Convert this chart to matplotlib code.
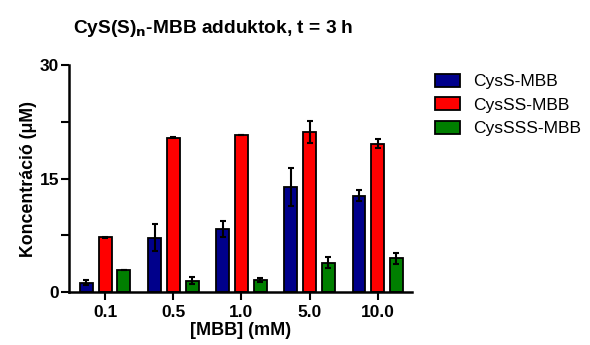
import numpy as np
import matplotlib
matplotlib.use("Agg")
import matplotlib.pyplot as plt
from matplotlib.ticker import MultipleLocator

plt.rcParams['font.family'] = ['Liberation Sans', 'DejaVu Sans']

concentrations = ["0.1", "0.5", "1.0", "5.0", "10.0"]
series_names = ["CysS-MBB", "CysSS-MBB", "CysSSS-MBB"]
cyss = [1.25, 7.2, 8.35, 13.9, 12.75]
cyss_err = [0.35, 1.8, 1.0, 2.5, 0.75]
cysss = [7.25, 20.4, 20.7, 21.1, 19.6]
cysss_err = [0.1, 0.1, 0.0, 1.45, 0.6]
cyssss = [2.95, 1.5, 1.6, 3.9, 4.45]
cyssss_err = [0.0, 0.45, 0.3, 0.75, 0.7]
colors = ["#00008B", "#FF0000", "#007F00"]

fig = plt.figure(figsize=(5.9, 3.45), dpi=100)
ax = fig.add_axes([0.117, 0.153, 0.581, 0.659])

x = np.arange(len(concentrations))
width = 0.19
pitch = 0.275
for i, (vals, errs) in enumerate([(cyss, cyss_err), (cysss, cysss_err), (cyssss, cyssss_err)]):
    ax.bar(x + (i - 1) * pitch, vals, width, color=colors[i], edgecolor="black",
           linewidth=1.3, label=series_names[i], zorder=2)
    ax.errorbar(x + (i - 1) * pitch, vals, yerr=errs, fmt="none", ecolor="black",
                elinewidth=1.5, capsize=2.5, capthick=1.5, zorder=3)

ax.set_xlim(-0.53, 4.5)
ax.set_ylim(0, 30)
ax.set_yticks([0, 15, 30])
ax.yaxis.set_minor_locator(MultipleLocator(7.5))
ax.set_xticks(x)
ax.set_xticklabels(concentrations)
for lab in ax.get_xticklabels() + ax.get_yticklabels():
    lab.set_fontweight("bold")
    lab.set_fontsize(12.5)
ax.tick_params(axis="x", which="major", direction="out", length=6, width=1.5, pad=3)
ax.tick_params(axis="y", which="major", direction="out", length=6, width=1.5, pad=1)
ax.tick_params(axis="y", which="minor", direction="out", length=6, width=1.5)
for s in ["top", "right"]:
    ax.spines[s].set_visible(False)
for s in ["left", "bottom"]:
    ax.spines[s].set_linewidth(1.8)

ax.set_xlabel("[MBB] (mM)", fontsize=13, fontweight="bold", labelpad=1.5)
ax.set_ylabel("Koncentráció (μM)", fontsize=12.8, fontweight="bold")
ax.yaxis.set_label_coords(-0.094, 0.5)
fig.text(0.362, 0.918, r"CyS(S)$_\mathbf{n}$-MBB adduktok, t = 3 h", ha="center", va="center",
         fontsize=13.8, fontweight="bold")

handles, labels = ax.get_legend_handles_labels()
fig.legend(handles, labels, loc="upper left", bbox_to_anchor=(0.725, 0.807), frameon=False,
           fontsize=12.5, handlelength=1.45, handleheight=0.8, labelspacing=0.45,
           handletextpad=0.75, borderaxespad=0.0)

fig.savefig("out.png", dpi=100)
